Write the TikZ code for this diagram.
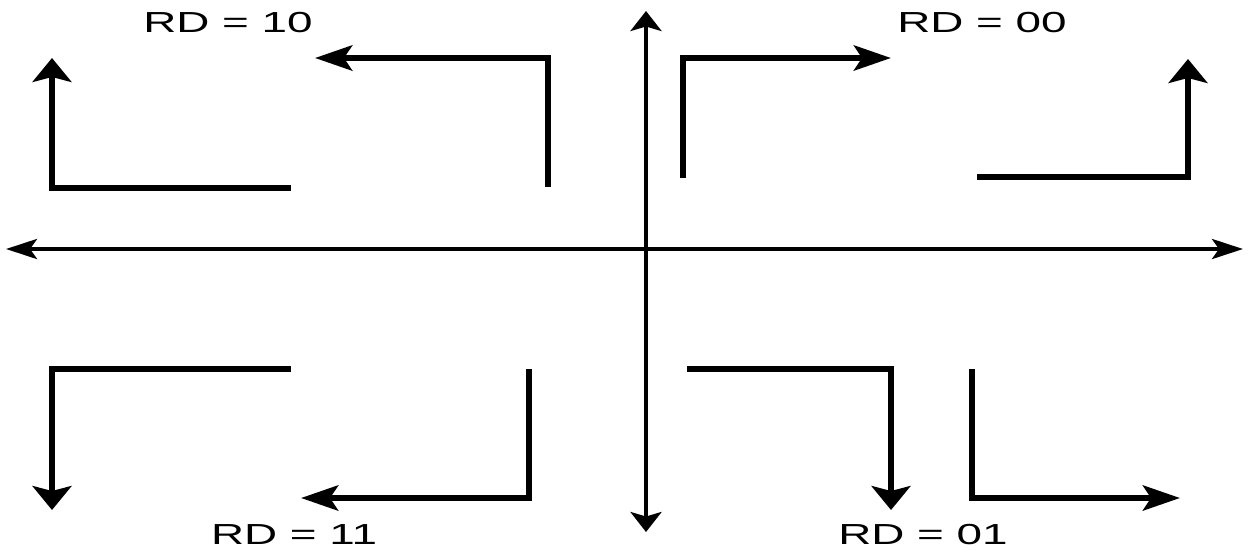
\documentclass[tikz,border=0pt]{standalone}
\usepackage{fontspec}
\setmainfont{Liberation Sans}
\usetikzlibrary{arrows.meta}
\begin{document}
\begin{tikzpicture}[x=1pt,y=-1pt,
  axis/.style={line width=4pt},
  axh/.style={-{Stealth[length=31pt,width=20pt,inset=7pt]}},
  axv/.style={-{Stealth[length=20pt,width=31pt,inset=4.5pt]}},
  path/.style={line width=6.2pt,line join=miter},
  tiph/.style={-{Stealth[length=37pt,width=25pt,inset=8pt]}},
  tipv/.style={-{Stealth[length=24pt,width=39pt,inset=5pt]}},
  rdlabel/.style={inner sep=0pt,font=\fontsize{29}{34}\selectfont}]
\useasboundingbox (0,0) rectangle (1249,550);
% axes
\coordinate (O) at (646,249);
\coordinate (xl) at (6,249);
\coordinate (xr) at (1243,249);
\coordinate (yt) at (646,11);
\coordinate (yb) at (646,532);
\draw[axis,axh] (O) -- (xl);
\draw[axis,axh] (O) -- (xr);
\draw[axis,axv] (O) -- (yt);
\draw[axis,axv] (O) -- (yb);
% quadrant RD = 10
\coordinate (a1s) at (291,188); \coordinate (a1c) at (52,188); \coordinate (a1e) at (52,58);
\draw[path,tipv] (a1s) -- (a1c) -- (a1e);
\coordinate (a2s) at (548,187); \coordinate (a2c) at (548,58); \coordinate (a2e) at (315,58);
\draw[path,tiph] (a2s) -- (a2c) -- (a2e);
\node[rdlabel] (l10) at (228,23) {\scalebox{1.58}[1]{RD = 10}};
% quadrant RD = 00
\coordinate (a3s) at (683,178); \coordinate (a3c) at (683,58); \coordinate (a3e) at (891,58);
\draw[path,tiph] (a3s) -- (a3c) -- (a3e);
\coordinate (a4s) at (977,177); \coordinate (a4c) at (1188,177); \coordinate (a4e) at (1188,59);
\draw[path,tipv] (a4s) -- (a4c) -- (a4e);
\node[rdlabel] (l00) at (982,23) {\scalebox{1.58}[1]{RD = 00}};
% quadrant RD = 11
\coordinate (a5s) at (291,369); \coordinate (a5c) at (52,369); \coordinate (a5e) at (52,510);
\draw[path,tipv] (a5s) -- (a5c) -- (a5e);
\coordinate (a6s) at (529,369); \coordinate (a6c) at (529,498); \coordinate (a6e) at (301,498);
\draw[path,tiph] (a6s) -- (a6c) -- (a6e);
\node[rdlabel] (l11) at (294,535) {\scalebox{1.58}[1]{RD = 11}};
% quadrant RD = 01
\coordinate (a7s) at (687,369); \coordinate (a7c) at (891,369); \coordinate (a7e) at (891,510);
\draw[path,tipv] (a7s) -- (a7c) -- (a7e);
\coordinate (a8s) at (972,369); \coordinate (a8c) at (972,498); \coordinate (a8e) at (1180,498);
\draw[path,tiph] (a8s) -- (a8c) -- (a8e);
\node[rdlabel] (l01) at (923,535) {\scalebox{1.58}[1]{RD = 01}};
\end{tikzpicture}
\end{document}
